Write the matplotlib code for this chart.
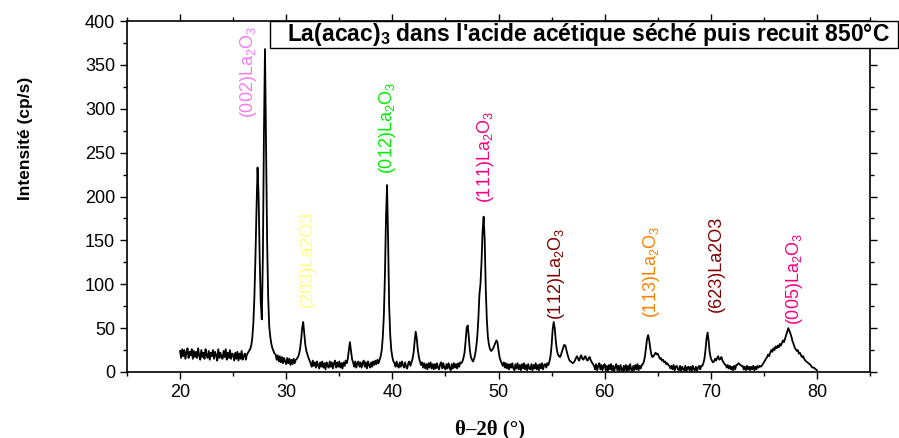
import numpy as np
import matplotlib
matplotlib.use("Agg")
import matplotlib.pyplot as plt
from matplotlib.patches import Rectangle

plt.rcParams["font.family"] = ["Liberation Sans", "DejaVu Sans"]
plt.rcParams["mathtext.fontset"] = "custom"
plt.rcParams["mathtext.rm"] = "Liberation Sans"
plt.rcParams["mathtext.bf"] = "Liberation Sans:bold"

# XRD scan, 20 -> 80 deg, step 0.1
two_theta = np.round(np.linspace(20.0, 80.0, 601), 1)
intensity = [
    24, 16, 26, 18, 25, 15, 22, 27, 16, 23,    # 20
    19, 26, 15, 24, 17, 23, 16, 27, 19, 14,    # 21
    25, 17, 22, 15, 26, 19, 16, 24, 14, 22,    # 22
    18, 25, 15, 23, 19, 13, 26, 16, 22, 17,    # 23
    15, 24, 17, 26, 14, 22, 16, 25, 15, 21,    # 24
    20, 13, 22, 15, 23, 13, 21, 15, 24, 14,    # 25
    18, 21, 14, 20, 22, 24, 26, 30, 38, 55,    # 26
    85, 130, 185, 233, 200, 130, 80, 60, 130, 270,    # 27
    368, 260, 150, 85, 52, 40, 32, 27, 24, 21,    # 28
    20, 14, 19, 12, 18, 11, 17, 10, 16, 12,    # 29
    9, 16, 10, 15, 8, 14, 9, 15, 10, 14,    # 30
    15, 17, 20, 26, 36, 50, 57, 44, 31, 24,    # 31
    20, 16, 13, 10, 6, 13, 7, 11, 5, 12,    # 32
    8, 4, 11, 6, 12, 5, 10, 3, 11, 7,    # 33
    5, 12, 6, 11, 4, 10, 13, 5, 11, 6,    # 34
    12, 5, 10, 4, 11, 7, 13, 10, 15, 25,    # 35
    34, 24, 15, 11, 6, 12, 5, 10, 12, 6,    # 36
    11, 5, 10, 13, 6, 11, 4, 12, 8, 5,    # 37
    11, 6, 12, 8, 13, 9, 14, 10, 14, 18,    # 38
    25, 40, 65, 110, 175, 213, 150, 75, 42, 25,    # 39
    17, 12, 10, 6, 12, 7, 5, 11, 6, 12,    # 40
    8, 5, 11, 6, 4, 10, 12, 7, 11, 15,    # 41
    22, 35, 46, 38, 25, 17, 12, 8, 11, 5,    # 42
    10, 4, 9, 3, 10, 5, 11, 4, 9, 3,    # 43
    9, 4, 10, 5, 3, 9, 11, 4, 10, 5,    # 44
    3, 9, 4, 10, 5, 2, 9, 4, 10, 5,    # 45
    9, 4, 10, 6, 11, 10, 12, 16, 22, 35,    # 46
    50, 53, 40, 25, 17, 14, 12, 15, 20, 28,    # 47
    40, 60, 88, 100, 125, 160, 177, 150, 95, 60,    # 48
    40, 31, 26, 24, 25, 27, 30, 33, 36, 34,    # 49
    25, 17, 13, 10, 7, 11, 5, 10, 4, 9,    # 50
    3, 9, 5, 10, 4, 2, 9, 4, 10, 3,    # 51
    8, 2, 9, 4, 10, 3, 8, 2, 9, 4,    # 52
    3, 9, 2, 8, 4, 10, 3, 8, 2, 9,    # 53
    4, 10, 3, 8, 9, 5, 10, 8, 12, 18,    # 54
    30, 48, 57, 50, 35, 25, 20, 18, 17, 20,    # 55
    24, 28, 31, 30, 25, 20, 16, 13, 12, 11,    # 56
    10, 11, 13, 16, 18, 15, 13, 17, 19, 15,    # 57
    14, 17, 18, 14, 13, 16, 17, 13, 11, 9,    # 58
    7, 3, 9, 2, 7, 10, 3, 8, 2, 7,    # 59
    9, 2, 7, 1, 8, 3, 9, 2, 7, 1,    # 60
    6, 9, 2, 7, 1, 8, 3, 1, 7, 2,    # 61
    8, 1, 7, 2, 9, 3, 1, 7, 2, 8,    # 62
    3, 9, 2, 7, 4, 8, 9, 12, 18, 28,    # 63
    38, 42, 36, 27, 20, 17, 18, 20, 22, 20,    # 64
    21, 18, 15, 16, 13, 14, 11, 12, 9, 10,    # 65
    8, 7, 4, 7, 3, 8, 2, 6, 7, 3,    # 66
    2, 7, 1, 6, 3, 2, 7, 1, 5, 6,    # 67
    2, 6, 1, 7, 3, 2, 6, 1, 5, 7,    # 68
    3, 7, 7, 10, 15, 25, 38, 45, 35, 22,    # 69
    16, 13, 11, 12, 15, 13, 16, 18, 14, 15,    # 70
    17, 13, 11, 9, 8, 5, 8, 4, 7, 3,    # 71
    6, 2, 7, 3, 8, 8, 10, 9, 8, 7,    # 72
    7, 3, 6, 2, 7, 3, 6, 2, 6, 3,    # 73
    7, 2, 6, 3, 7, 5, 7, 6, 7, 9,    # 74
    11, 13, 15, 17, 20, 18, 22, 25, 23, 27,    # 75
    25, 29, 27, 30, 28, 32, 30, 33, 36, 34,    # 76
    38, 42, 46, 50, 47, 44, 40, 35, 32, 28,    # 77
    26, 24, 25, 21, 22, 19, 17, 18, 15, 13,    # 78
    12, 11, 10, 9, 8, 6, 5, 5, 4, 3,    # 79
    2,                                        # 80
]

# peak labels: text, 2theta, bottom of text (cp/s), colour
peak_labels = [
    r"(002)La$_2$O$_3$", r"(203)La2O3", r"(012)La$_2$O$_3$", r"(111)La$_2$O$_3$",
    r"(112)La$_2$O$_3$", r"(113)La$_2$O$_3$", r"(623)La2O3", r"(005)La$_2$O$_3$",
]
peak_x = [26.4, 32.0, 39.5, 48.8, 55.5, 64.4, 70.5, 77.9]
peak_y = [290, 74, 226, 193, 59, 61, 68, 53]
peak_colors = ["#f080f0", "#ffff80", "#00ee00", "#ff0080",
               "#800000", "#ff8000", "#800000", "#ff0080"]

W, H = 899, 438
fig = plt.figure(figsize=(W / 100, H / 100), dpi=100)
ax = fig.add_axes([127 / W, 1 - 372 / H, (870 - 127) / W, (372 - 21) / H])

ax.plot(two_theta, intensity, color="black", lw=1.3)

for txt, x, y, c in zip(peak_labels, peak_x, peak_y, peak_colors):
    ax.text(x, y, txt, rotation=90, ha="center", va="bottom", color=c,
            fontsize=13)

ax.set_xlim(15, 85)
ax.set_ylim(0, 400)
ax.set_xticks(np.arange(20, 81, 10))
ax.set_xticks(np.arange(15, 86, 5), minor=True)
ax.set_yticks(np.arange(0, 401, 50))
ax.set_yticks(np.arange(25, 400, 50), minor=True)
ax.tick_params(which="both", direction="out", top=True, right=True,
               labelsize=13, width=1.0)
ax.tick_params(which="major", length=5)
ax.tick_params(which="minor", length=3)
for s in ax.spines.values():
    s.set_linewidth(1.2)

ax.set_ylabel("Intensité (cp/s)", fontsize=12.5, fontweight="bold")
ax.yaxis.set_label_coords(-94 / (870 - 127), (372 - 138) / (372 - 21))
ax.set_xlabel("θ–2θ (°)", fontsize=15, fontweight="bold",
              family=["Liberation Serif", "DejaVu Serif"])
ax.xaxis.set_label_coords((490 - 127) / (870 - 127), -(419 - 372) / (372 - 21))

# title box sitting on the top frame
fig.patches.append(Rectangle((270 / W, 1 - 48 / H), 628 / W, 27 / H,
                             transform=fig.transFigure, fc="white",
                             ec="black", lw=1.0))
fig.text(588 / W, 1 - 35 / H,
         r"La(acac)$_\mathbf{3}$ dans l'acide acétique séché puis recuit 850°C",
         ha="center", va="center", fontsize=16.5, fontweight="bold")

fig.savefig("out.png", dpi=100)
